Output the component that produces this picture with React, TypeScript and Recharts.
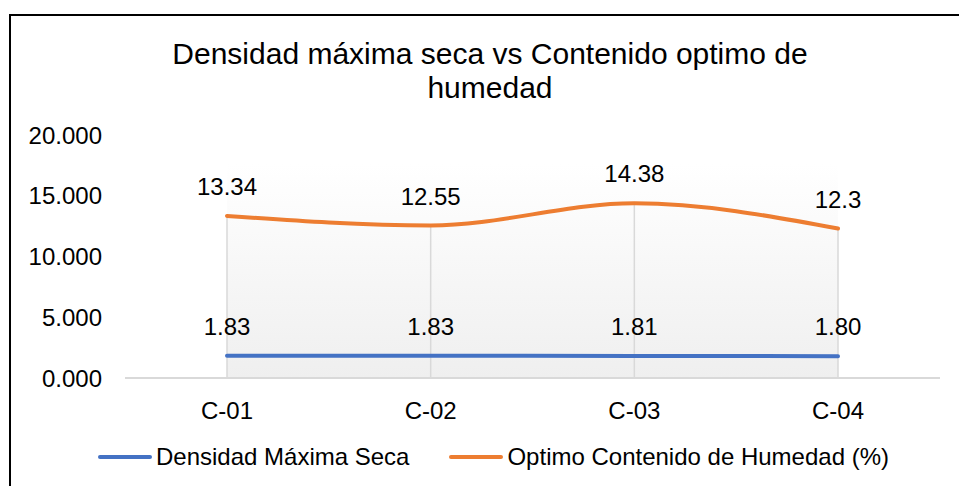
import { LineChart, Line, XAxis, YAxis, ReferenceArea, ReferenceLine, Legend, LabelList } from 'recharts';

const categorias = ['C-01', 'C-02', 'C-03', 'C-04'];
const densidadMaxima = [1.83, 1.83, 1.81, 1.8];
const optimoHumedad = [13.34, 12.55, 14.38, 12.3];
const yTicks = [0, 5, 10, 15, 20];

const titulo1 = 'Densidad máxima seca vs Contenido optimo de';
const titulo2 = 'humedad';

const FONT = '"Liberation Sans", Arial, sans-serif';
const AZUL = '#4472C4';
const NARANJA = '#ED7D31';

const data = categorias.map((c, i) => ({ name: c, densidad: densidadMaxima[i], humedad: optimoHumedad[i] }));

const series = [
  { key: 'densidad', name: 'Densidad Máxima Seca', color: AZUL, fmt: (v: number) => v.toFixed(2) },
  { key: 'humedad', name: 'Optimo Contenido de Humedad (%)', color: NARANJA, fmt: (v: number) => String(v) },
];

const LeyendaCustom = () => (
  <div style={{ display: 'flex', justifyContent: 'center', gap: 40, fontFamily: FONT, fontSize: 24, color: '#000', paddingLeft: 28 }}>
    {series.map((s) => (
      <div key={s.key} style={{ display: 'flex', alignItems: 'center' }}>
        <span style={{ width: 54, height: 4, borderRadius: 2, background: s.color, marginRight: 4 }} />
        <span>{s.name}</span>
      </div>
    ))}
  </div>
);

export default function App() {
  return (
    <div style={{ position: 'absolute', left: 0, top: 0, width: 959, height: 486, overflow: 'hidden', background: '#fff' }}>
      <div style={{ position: 'absolute', left: 9, top: 14, width: 950, height: 472, borderTop: '2px solid #000', borderLeft: '2px solid #000' }} />
      <div style={{ position: 'absolute', left: 0, top: 0 }}>
        <LineChart width={959} height={486} data={data} margin={{ top: 135, right: 19, bottom: 58, left: 0 }}>
          <defs>
            <linearGradient id="fondoPlot" x1="0" y1="0" x2="0" y2="1">
              <stop offset="0%" stopColor="#ffffff" />
              <stop offset="12%" stopColor="#ffffff" />
              <stop offset="100%" stopColor="#efefef" />
            </linearGradient>
          </defs>
          <text x={490} y={64} textAnchor="middle" fontFamily={FONT} fontSize={30} fill="#000">{titulo1}</text>
          <text x={490} y={98} textAnchor="middle" fontFamily={FONT} fontSize={30} fill="#000">{titulo2}</text>
          <ReferenceArea y1={0} y2={20} fill="url(#fondoPlot)" fillOpacity={1} stroke="none" ifOverflow="extendDomain" />
          {data.map((d) => (
            <ReferenceLine key={d.name} segment={[{ x: d.name, y: 0 }, { x: d.name, y: d.humedad }]} stroke="#d9d9d9" strokeWidth={1.5} />
          ))}
          <XAxis
            dataKey="name"
            height={50}
            padding={{ left: 102, right: 102 }}
            tickSize={0}
            tickMargin={24}
            axisLine={{ stroke: '#d9d9d9', strokeWidth: 2 }}
            tickLine={false}
            tick={{ fill: '#000', fontSize: 24, fontFamily: FONT }}
          />
          <YAxis
            domain={[0, 20]}
            ticks={yTicks}
            width={125}
            tickSize={0}
            tickMargin={23}
            axisLine={false}
            tickLine={false}
            tickFormatter={(v) => Number(v).toFixed(3)}
            tick={{ fill: '#000', fontSize: 24, fontFamily: FONT }}
          />
          <Legend layout="horizontal" verticalAlign="middle" align="center" content={<LeyendaCustom />} wrapperStyle={{ top: 443, left: 0, width: 959 }} />
          {series.map((s) => (
            <Line
              key={s.key}
              type="monotone"
              dataKey={s.key}
              name={s.name}
              stroke={s.color}
              strokeWidth={4}
              strokeLinecap="round"
              dot={false}
              activeDot={false}
              isAnimationActive={false}
            >
              <LabelList dataKey={s.key} position="top" offset={21} formatter={(v: any) => s.fmt(Number(v))} style={{ fill: '#000', fontSize: 24, fontFamily: FONT }} />
            </Line>
          ))}
        </LineChart>
      </div>
    </div>
  );
}
